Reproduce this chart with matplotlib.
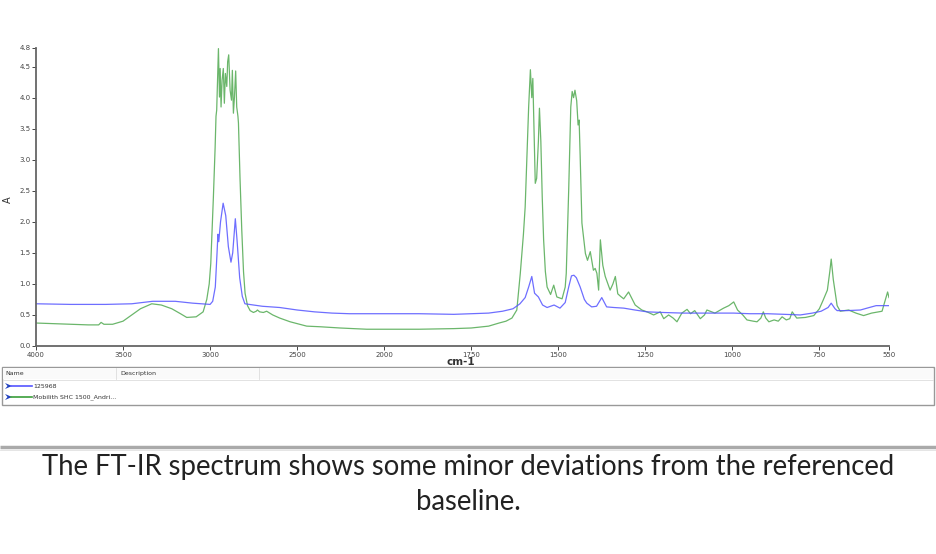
import numpy as np
import matplotlib
matplotlib.use('Agg')
import matplotlib.pyplot as plt
from matplotlib.patches import Rectangle, Polygon

# Spectrum 125968 (blue)
blue_wn = [4000, 3800, 3600, 3450, 3330, 3200, 3100, 3000, 2985, 2970, 2960, 2955, 2950, 2940,
           2925, 2910, 2895, 2880, 2870, 2855, 2845, 2830, 2815, 2800, 2750, 2700, 2600, 2500,
           2400, 2300, 2200, 2100, 2000, 1900, 1800, 1700, 1660, 1630, 1610, 1595, 1585, 1576,
           1568, 1557, 1545, 1532, 1512, 1495, 1480, 1470, 1462, 1455, 1448, 1437, 1425, 1418,
           1404, 1390, 1375, 1361, 1340, 1312, 1280, 1245, 1200, 1141, 1100, 1050, 996, 950,
           900, 850, 805, 770, 745, 725, 716, 705, 699, 670, 632, 613, 587, 560, 550]
blue_a = [0.68, 0.67, 0.67, 0.68, 0.72, 0.72, 0.69, 0.67, 0.72, 0.95, 1.5, 1.8, 1.68, 2.0,
          2.3, 2.1, 1.6, 1.35, 1.5, 2.05, 1.7, 1.1, 0.8, 0.68, 0.66, 0.64, 0.62, 0.58,
          0.55, 0.53, 0.52, 0.52, 0.52, 0.52, 0.51, 0.53, 0.56, 0.6, 0.68, 0.78, 0.95, 1.12,
          0.85, 0.79, 0.66, 0.62, 0.66, 0.61, 0.7, 0.95, 1.13, 1.14, 1.1, 0.95, 0.75, 0.69,
          0.63, 0.64, 0.78, 0.63, 0.62, 0.61, 0.58, 0.55, 0.54, 0.53, 0.53, 0.53, 0.53, 0.52,
          0.52, 0.51, 0.50, 0.53, 0.56, 0.62, 0.69, 0.6, 0.57, 0.57, 0.58, 0.61, 0.65, 0.65, 0.65]

# Spectrum Mobilith SHC 1500 (green)
green_wn = [4000, 3900, 3800, 3700, 3640, 3626, 3610, 3560, 3500, 3450, 3400, 3335, 3280, 3220,
            3170, 3134, 3080, 3040, 3019, 3005, 2996, 2988, 2981, 2971, 2966, 2962, 2952, 2946,
            2942, 2937, 2931, 2924, 2918, 2912, 2904, 2899, 2893, 2885, 2877, 2872, 2866, 2860,
            2853, 2847, 2840, 2837, 2828, 2818, 2808, 2799, 2785, 2770, 2751, 2735, 2728, 2715,
            2694, 2675, 2640, 2600, 2540, 2500, 2445, 2368, 2253, 2100, 2000, 1900, 1800, 1750,
            1700, 1670, 1650, 1633, 1619, 1609, 1600, 1595, 1585, 1580, 1576, 1573, 1570, 1566,
            1562, 1557, 1554, 1550, 1546, 1542, 1537, 1532, 1522, 1513, 1504, 1489, 1480, 1477,
            1470, 1464, 1460, 1456, 1452, 1447, 1443, 1440, 1437, 1432, 1422, 1416, 1408, 1399,
            1394, 1389, 1384, 1379, 1372, 1365, 1351, 1343, 1336, 1329, 1321, 1312, 1298, 1290,
            1279, 1260, 1245, 1226, 1207, 1197, 1183, 1170, 1159, 1145, 1130, 1120, 1108, 1092,
            1080, 1073, 1050, 1025, 1010, 996, 985, 970, 958, 940, 929, 918, 911, 904,
            895, 880, 868, 857, 845, 835, 828, 815, 790, 766, 750, 739, 727, 720,
            716, 710, 699, 690, 666, 645, 623, 600, 570, 560, 554, 550]
green_a = [0.37, 0.36, 0.35, 0.34, 0.34, 0.38, 0.35, 0.35, 0.4, 0.5, 0.6, 0.68, 0.66, 0.6,
           0.52, 0.46, 0.47, 0.55, 0.75, 1.0, 1.33, 1.9, 2.4, 3.2, 3.7, 3.8, 4.79, 4.01,
           4.47, 3.85, 4.28, 4.47, 3.91, 4.39, 4.18, 4.58, 4.69, 4.12, 3.96, 4.44, 3.75, 4.01,
           4.43, 3.85, 3.7, 3.59, 2.7, 1.87, 1.2, 0.85, 0.65, 0.57, 0.54, 0.56, 0.58, 0.55,
           0.54, 0.56, 0.5, 0.45, 0.39, 0.36, 0.32, 0.31, 0.29, 0.27, 0.27, 0.27, 0.28, 0.29,
           0.32, 0.37, 0.4, 0.45, 0.58, 1.17, 1.8, 2.24, 3.85, 4.45, 4.0, 4.31, 3.6, 2.62,
           2.7, 3.3, 3.83, 3.3, 2.4, 1.71, 1.2, 0.95, 0.83, 0.98, 0.79, 0.76, 0.95, 1.17,
           2.51, 3.85, 4.1, 4.0, 4.12, 3.95, 3.56, 3.64, 3.05, 1.98, 1.49, 1.38, 1.52, 1.22,
           1.25, 1.17, 0.9, 1.71, 1.3, 1.12, 0.9, 1.0, 1.12, 0.84, 0.8, 0.76, 0.87, 0.78,
           0.66, 0.58, 0.55, 0.50, 0.55, 0.44, 0.50, 0.45, 0.39, 0.53, 0.59, 0.52, 0.57, 0.44,
           0.5, 0.58, 0.53, 0.61, 0.65, 0.71, 0.58, 0.5, 0.42, 0.4, 0.39, 0.45, 0.55, 0.45,
           0.39, 0.42, 0.4, 0.47, 0.42, 0.44, 0.55, 0.45, 0.46, 0.49, 0.6, 0.74, 0.9, 1.2,
           1.40, 1.07, 0.65, 0.56, 0.58, 0.53, 0.49, 0.53, 0.56, 0.75, 0.87, 0.78]

x_ticks = [4000, 3500, 3000, 2500, 2000, 1750, 1500, 1250, 1000, 750, 550]
y_ticks = [0.0, 0.5, 1.0, 1.5, 2.0, 2.5, 3.0, 3.5, 4.0, 4.5, 4.8]
series_names = ['125968', 'Mobilith SHC 1500_Andri...']
caption = ['The FT-IR spectrum shows some minor deviations from the referenced', 'baseline.']

BLUE = '#5555ff'
GREEN = '#3a9e3a'


# below 2000 cm-1 the axis is stretched x2, like the instrument software
def fwd(x):
    x = np.asarray(x, dtype=float)
    return np.where(x >= 2000, x, 2 * x - 2000)


def inv(u):
    u = np.asarray(u, dtype=float)
    return np.where(u >= 2000, u, (u + 2000) / 2)


W, H = 936, 554
fig = plt.figure(figsize=(W / 100, H / 100), dpi=100)
ax = fig.add_axes([36 / W, 1 - 346 / H, (889 - 36) / W, (346 - 48) / H])

ax.plot(green_wn, green_a, color=GREEN, lw=0.9, alpha=0.75)
ax.plot(blue_wn, blue_a, color=BLUE, lw=0.9, alpha=0.85)

ax.set_xscale('function', functions=(fwd, inv))
ax.set_xlim(4000, 550)
ax.set_ylim(0, 4.8)
ax.set_xticks(x_ticks)
ax.set_xticklabels([str(t) for t in x_ticks])
ax.set_yticks(y_ticks)
ax.set_yticklabels(['%.1f' % t for t in y_ticks])
ax.minorticks_off()
ax.tick_params(labelsize=5, colors='#444444', length=3, width=0.7, pad=1)
for s in ['top', 'right']:
    ax.spines[s].set_visible(False)
for s in ['left', 'bottom']:
    ax.spines[s].set_color('#666666')
    ax.spines[s].set_linewidth(1.3)

# overlay in pixel coordinates for labels, legend table and caption
ov = fig.add_axes([0, 0, 1, 1])
ov.set_xlim(0, W)
ov.set_ylim(H, 0)
ov.axis('off')

ov.text(8, 200, 'A', rotation=90, fontsize=7, ha='center', va='center', color='#333333')
ov.text(461, 362, 'cm-1', fontsize=7.5, ha='center', va='center', color='#333333', fontweight='bold')

# legend table
ov.add_patch(Rectangle((2, 367), 932, 38, fill=False, ec='#999999', lw=1))
ov.add_patch(Rectangle((3, 368), 930, 11, fc='#fafafa', ec='none'))
ov.plot([3, 933], [379.5, 379.5], color='#dddddd', lw=0.6)
ov.plot([116, 116], [368, 379], color='#dddddd', lw=0.6)
ov.plot([259, 259], [368, 379], color='#dddddd', lw=0.6)
ov.text(5, 373.5, 'Name', fontsize=4.5, va='center', color='#333333')
ov.text(120, 373.5, 'Description', fontsize=4.5, va='center', color='#333333')
for i, (name, col) in enumerate(zip(series_names, [BLUE, GREEN])):
    yy = 386 + i * 11
    ov.add_patch(Polygon([[5, yy - 3], [12, yy], [5, yy + 3], [7.5, yy]], closed=True,
                         fc='#1f3fbf', ec='none'))
    ov.plot([11, 32], [yy, yy], color=col, lw=1.2)
    ov.text(33, yy, name, fontsize=4.5, va='center', color='#333333')

# separator and caption
ov.plot([0, W], [447, 447], color='#aaaaaa', lw=2.5, solid_capstyle='butt')
ov.plot([0, W], [449.5, 449.5], color='#e0e0e0', lw=0.6)
ov.text(468, 467, caption[0], fontsize=19.8, ha='center', va='center', color='#222222', family='Lato')
ov.text(468, 502, caption[1], fontsize=19.8, ha='center', va='center', color='#222222', family='Lato')

fig.savefig('out.png', dpi=100)
